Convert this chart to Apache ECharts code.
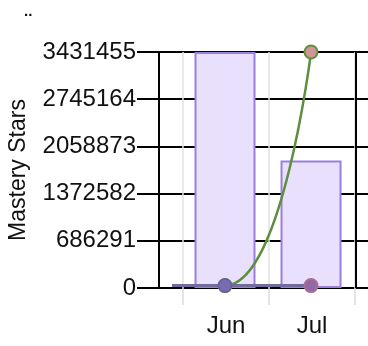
<!DOCTYPE html>
<html>
<head>
<meta charset="utf-8">
<script src="https://cdn.jsdelivr.net/npm/echarts@6/dist/echarts.min.js"></script>
<style>html,body{margin:0;padding:0;background:#fff}#c{width:368px;height:346px}</style>
</head>
<body>
<div id="c"></div>
<script>
// ---- data ----
const categories = ['Jun', 'Jul'];
const monthPos = [1, 2];            // Jun, Jul positions on the hidden numeric x scale
const yMax = 3431455;
const yStep = 686291;
const barValues = [3431455, 1854000];
const lineStartPos = 0.384;         // earlier point of the line series (before Jun)
const greenValues = [35000, 35000, 3431455];
const purpleValues = [35000, 35000, 35000];
const titleText = '..';
const yName = 'Mastery Stars';

const FONT = 'Liberation Sans, Arial, Helvetica, sans-serif';
const linePos = [lineStartPos].concat(monthPos);

const chart = echarts.init(document.getElementById('c'), null, {renderer: 'canvas'});
chart.setOption({
  animation: false,
  title: {text: titleText, left: 19, top: -1, textStyle: {fontSize: 15, color: '#111', fontWeight: 'bold', fontFamily: FONT}},
  grid: [
    {left: 137, right: 0, top: 52, bottom: 58, outerBoundsMode: 'none', containLabel: false},   // frame
    {left: 159, right: 12, top: 52, bottom: 58, outerBoundsMode: 'none', containLabel: false},  // data
    {left: 183, right: 13, top: 52, bottom: 58, outerBoundsMode: 'none', containLabel: false}   // categories
  ],
  xAxis: [
    {gridIndex: 0, type: 'value', show: false, min: 0, max: 1},
    {gridIndex: 1, type: 'value', show: false, min: 0.2326, max: 2.523},
    {gridIndex: 2, type: 'category', data: categories, boundaryGap: true,
     axisLine: {show: false},
     axisTick: {show: true, length: 17, lineStyle: {color: '#dcdcdc', width: 1.5}},
     splitLine: {show: true, lineStyle: {color: '#e2e2e2', width: 1.5}},
     axisLabel: {margin: 26, fontSize: 24, color: '#111', fontFamily: FONT}}
  ],
  yAxis: [
    {gridIndex: 0, type: 'value', min: 0, max: yMax, interval: yStep,
     name: yName, nameLocation: 'middle', nameGap: 107, nameRotate: 90,
     nameTextStyle: {fontSize: 23, color: '#111', fontFamily: FONT},
     axisLine: {show: false}, axisTick: {show: false},
     axisLabel: {margin: 1, fontSize: 24, color: '#111', fontFamily: FONT, formatter: v => String(v)},
     splitLine: {show: true, lineStyle: {color: '#000', width: 2}}},
    {gridIndex: 1, type: 'value', min: 0, max: yMax, position: 'left',
     axisLine: {show: true, lineStyle: {color: '#000', width: 2}},
     axisTick: {show: false}, axisLabel: {show: false}, splitLine: {show: false}},
    {gridIndex: 1, type: 'value', min: 0, max: yMax, position: 'right',
     axisLine: {show: true, lineStyle: {color: '#000', width: 2}},
     axisTick: {show: false}, axisLabel: {show: false}, splitLine: {show: false}},
    {gridIndex: 2, type: 'value', min: 0, max: yMax, show: false}
  ],
  series: [
    {type: 'bar', xAxisIndex: 1, yAxisIndex: 1, barWidth: 61,
     data: monthPos.map((x, i) => [x, barValues[i]]),
     itemStyle: {color: '#e8e0fc', borderColor: '#9a7fe0', borderWidth: 2}},
    {type: 'line', xAxisIndex: 1, yAxisIndex: 1, smooth: 0.5,
     data: linePos.map((x, i) => ({value: [x, greenValues[i]], symbol: i === 0 ? 'none' : 'circle'})),
     lineStyle: {color: '#5e8f3e', width: 2.5},
     symbolSize: 13,
     itemStyle: {color: '#d09696', borderColor: '#5e8f3e', borderWidth: 2}},
    {type: 'line', xAxisIndex: 1, yAxisIndex: 1,
     data: linePos.map((x, i) => ({value: [x, purpleValues[i]], symbol: i === 0 ? 'none' : 'circle',
       itemStyle: i === 2 ? {color: '#8e6aa6', borderColor: '#b06c92', borderWidth: 2} : undefined})),
     lineStyle: {color: '#716ba0', width: 3},
     symbolSize: 13,
     itemStyle: {color: '#7a6cb2', borderColor: '#6a5ca4', borderWidth: 1.5}}
  ]
});
</script>
</body>
</html>
